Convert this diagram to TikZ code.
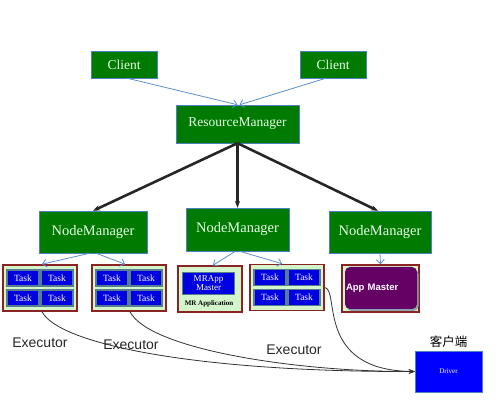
\documentclass[tikz,border=0pt]{standalone}
\usepackage{fontspec}
\setmainfont{Liberation Serif}
\setsansfont{Liberation Sans}
\newfontfamily\cjk{Noto Sans CJK SC}
\usetikzlibrary{positioning,arrows.meta,calc}
\usepackage{xcolor}
\definecolor{verde}{HTML}{007A00}
\definecolor{verdeclaro}{HTML}{D4F5CC}
\definecolor{textoverde}{HTML}{E6FFE6}
\definecolor{bordeazul}{HTML}{4F81BD}
\definecolor{azulclaro}{HTML}{5B8FD0}
\definecolor{azultarea}{HTML}{0000E0}
\definecolor{grisazul}{HTML}{557F8C}
\definecolor{rojo}{HTML}{8B2323}
\definecolor{morado}{HTML}{650065}
\definecolor{azuldriver}{HTML}{0000FF}

\begin{document}
\begin{tikzpicture}[x=1pt, y=-1pt,
    caja/.style={draw=bordeazul, fill=verde, text=textoverde, inner sep=0pt,
      font=\fontsize{13.5}{15}\selectfont},
    contenedor/.style={draw=rojo, line width=1.6pt, fill=verdeclaro, inner sep=0pt,
      minimum width=74pt, minimum height=46pt},
    tarea/.style={draw=grisazul, line width=1.3pt, fill=azultarea, text=white, inner sep=0pt,
      minimum width=32pt, minimum height=16pt, font=\fontsize{9.5}{10}\selectfont},
    flechafina/.style={azulclaro, line width=0.8pt, -{Straight Barb[length=4pt]}},
    flechagruesa/.style={black!85, line width=2.6pt, -{Stealth[length=7pt]}},
    flechacurva/.style={black!80, line width=0.8pt, -{Stealth[length=6pt]}},
    etiqueta/.style={font=\sffamily\fontsize{14}{16}\selectfont, text=black!85}]
  \useasboundingbox (0,0) rectangle (501,411);

  % clientes y resource manager
  \node[caja, minimum width=66pt, minimum height=27pt] (cliente1) at (124,64.5) {Client};
  \node[caja, minimum width=66pt, minimum height=27pt] (cliente2) at (333,64.5) {Client};
  \node[caja, minimum width=123pt, minimum height=38pt] (rm) at (237.5,124) {ResourceManager};

  % node managers
  \node[caja, minimum width=108pt, minimum height=42pt, font=\fontsize{14.5}{16}\selectfont] (nm1) at (93,232) {NodeManager};
  \node[caja, minimum width=103pt, minimum height=43pt, font=\fontsize{14.5}{16}\selectfont] (nm2) at (237.5,229.5) {NodeManager};
  \node[caja, minimum width=102pt, minimum height=42pt, font=\fontsize{14.5}{16}\selectfont] (nm3) at (380,232) {NodeManager};

  % contenedores
  \node[contenedor] (c1) at (40,288) {};
  \node[contenedor] (c2) at (129,288) {};
  \node[contenedor, minimum width=64pt] (c3) at (210,289) {};
  \node[contenedor] (c4) at (287,287.5) {};
  \node[contenedor, minimum width=77pt, minimum height=47pt] (c5) at (380.5,288.5) {};

  \foreach \c in {c1,c2,c4}
    \foreach \dx/\dy [count=\i] in {-17/-10, 17/-10, -17/10, 17/10}
      \node[tarea] (\c-t\i) at ([shift={(\dx,\dy)}]\c.center) {Task};

  \node[tarea, minimum width=52pt, minimum height=22pt, align=center,
    font=\fontsize{9}{9}\selectfont] (mrapp) at (208.5,283.5) {MRApp\\Master};
  \node[font=\bfseries\fontsize{7}{8}\selectfont, inner sep=0pt] (mrlabel) at (209,303.5) {MR Application};

  \node[fill=grisazul!70, rounded corners=5pt, minimum width=72pt, minimum height=42pt] (sombra) at (382.5,290) {};
  \node[fill=morado, rounded corners=5pt, minimum width=72pt, minimum height=42pt,
    text width=70pt, inner sep=1pt, align=left, text=white,
    font=\sffamily\bfseries\fontsize{9.5}{10}\selectfont] (appmaster) at (381,288) {App Master};

  % driver
  \node[draw=bordeazul, fill=azuldriver, text=white, minimum width=67pt, minimum height=41pt,
    font=\fontsize{7}{8}\selectfont] (driver) at (448.5,371.5) {Driver};
  \node[font=\cjk\fontsize{12.5}{14}\selectfont, above=0pt of driver] (kehuduan) {客户端};

  % etiquetas
  \node[etiqueta] (ex1) at (40,343) {Executor};
  \node[etiqueta] (ex2) at (131,345) {Executor};
  \node[etiqueta] (ex3) at (294,350) {Executor};

  % flechas
  \draw[flechafina] ([xshift=3pt]cliente1.south) -- (rm.north);
  \draw[flechafina] ([xshift=-7pt]cliente2.south) -- ([xshift=2pt]rm.north);
  \draw[flechagruesa] (rm.south) -- (nm1.north);
  \draw[flechagruesa] (rm.south) -- (nm2.north);
  \draw[flechagruesa] (rm.south) -- ([xshift=-2pt]nm3.north);
  \draw[flechafina] ([xshift=-3pt]nm1.south) -- ([xshift=2pt]c1.north);
  \draw[flechafina] ([xshift=3pt]nm1.south) -- ([xshift=-4pt]c2.north);
  \draw[flechafina] ([xshift=-2pt]nm2.south) -- ([xshift=3pt]c3.north);
  \draw[flechafina] ([xshift=2pt]nm2.south) -- ([xshift=-5pt]c4.north);
  \draw[flechafina] (nm3.south) -- (c5.north);

  \draw[flechacurva] ([xshift=2pt]c1.south) .. controls (60,345) and (200,372) .. (driver.west);
  \draw[flechacurva] ([xshift=1pt]c2.south) .. controls (150,350) and (300,372) .. (driver.west);
  \draw[flechacurva] (c4.east) .. controls (340,290) and (315,370) .. (driver.west);
\end{tikzpicture}
\end{document}
